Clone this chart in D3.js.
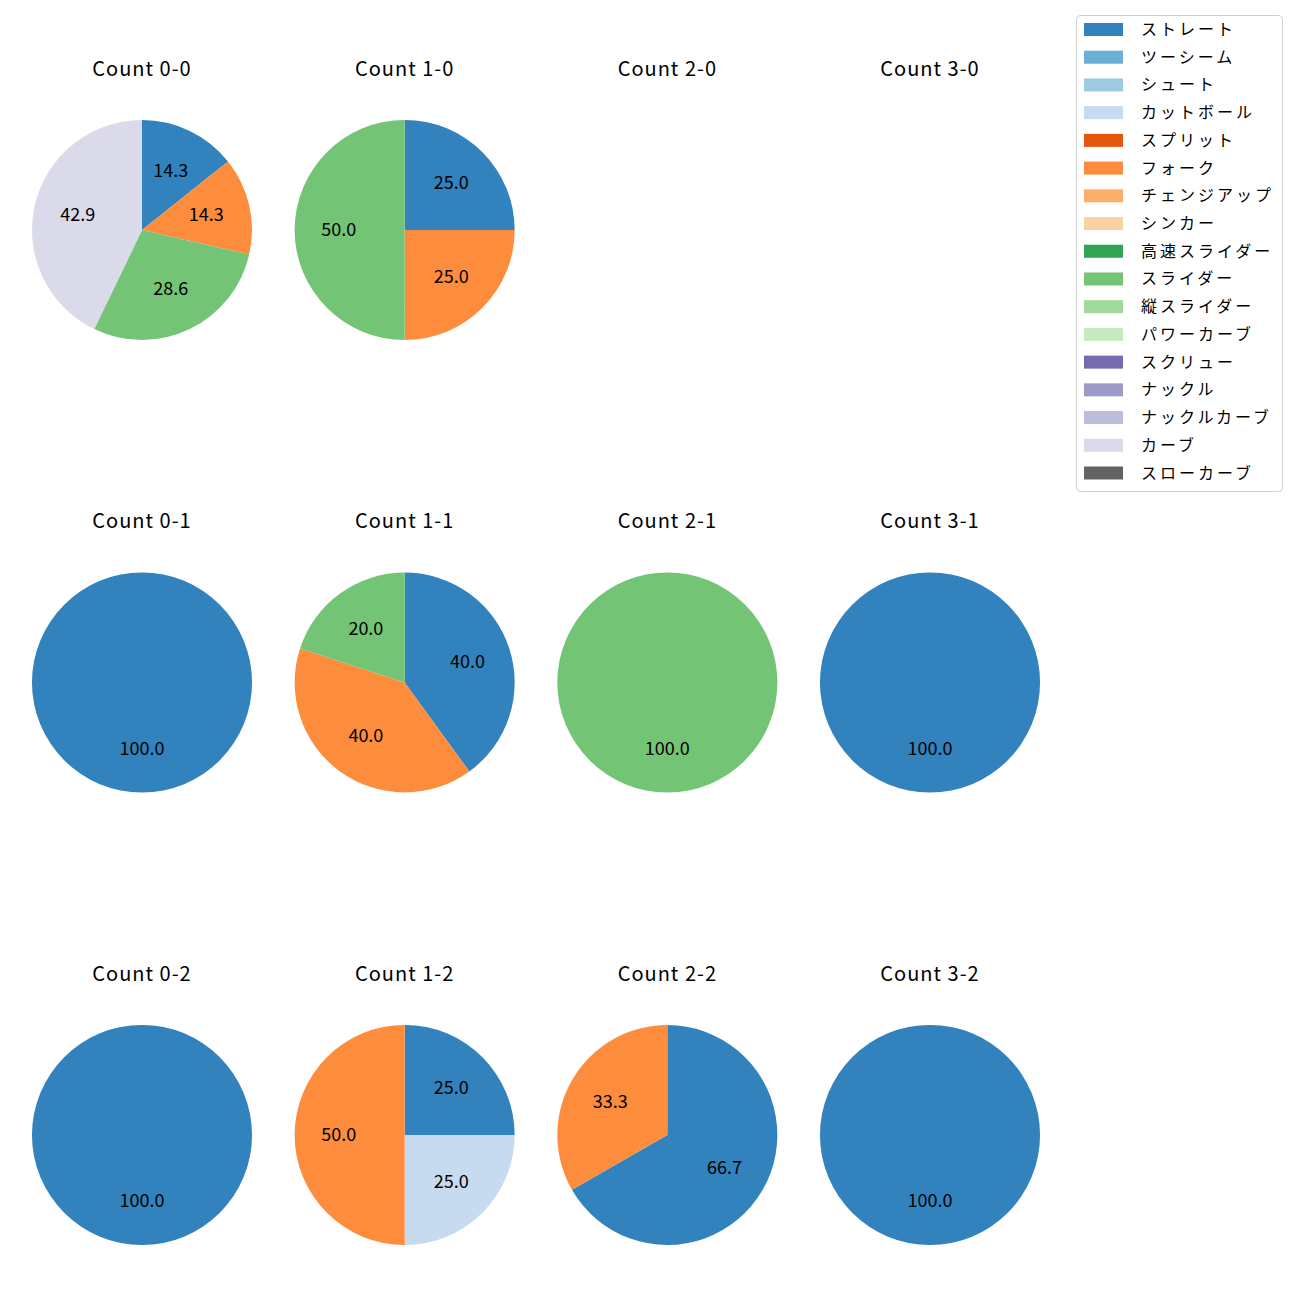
<!DOCTYPE html>
<html><head><meta charset="utf-8">
<script src="https://cdn.jsdelivr.net/npm/d3@7"></script>
<style>body{margin:0;background:#fff;} text{font-family:"Noto Sans CJK JP","Noto Sans",sans-serif;}</style>
</head><body>
<svg id="c" width="1300" height="1300"></svg>
<script>
const pitchTypes = ["ストレート","ツーシーム","シュート","カットボール","スプリット","フォーク","チェンジアップ","シンカー","高速スライダー","スライダー","縦スライダー","パワーカーブ","スクリュー","ナックル","ナックルカーブ","カーブ","スローカーブ"];
const pitchColors = ["#3182bd","#6baed6","#9ecae1","#c6dbef","#e6550d","#fd8d3c","#fdae6b","#fdd0a2","#31a354","#74c476","#a1d99b","#c7e9c0","#756bb1","#9e9ac8","#bcbddc","#dadaeb","#636363"];
const countTitles = ["Count 0-0","Count 1-0","Count 2-0","Count 3-0","Count 0-1","Count 1-1","Count 2-1","Count 3-1","Count 0-2","Count 1-2","Count 2-2","Count 3-2"];
// each panel: [pitch type, share %]
const panel00 = [["ストレート",14.3],["フォーク",14.3],["スライダー",28.6],["カーブ",42.9]];
const panel10 = [["ストレート",25.0],["フォーク",25.0],["スライダー",50.0]];
const panel20 = [];
const panel30 = [];
const panel01 = [["ストレート",100.0]];
const panel11 = [["ストレート",40.0],["フォーク",40.0],["スライダー",20.0]];
const panel21 = [["スライダー",100.0]];
const panel31 = [["ストレート",100.0]];
const panel02 = [["ストレート",100.0]];
const panel12 = [["ストレート",25.0],["カットボール",25.0],["フォーク",50.0]];
const panel22 = [["ストレート",66.7],["フォーク",33.3]];
const panel32 = [["ストレート",100.0]];
const panels = [panel00,panel10,panel20,panel30,panel01,panel11,panel21,panel31,panel02,panel12,panel22,panel32];

const svg = d3.select("#c");
const color = d3.scaleOrdinal().domain(pitchTypes).range(pitchColors);
const colX = d3.scalePoint().domain([0,1,2,3]).range([142,930]);
const rowY = d3.scalePoint().domain([0,1,2]).range([230,1135]);
const R = 110;
const pie = d3.pie().sort(null).value(d=>d[1]);
const arc = d3.arc().innerRadius(0).outerRadius(R);
const labelArc = d3.arc().innerRadius(R*0.6).outerRadius(R*0.6);

panels.forEach((data,i)=>{
  const c = i%4, r = Math.floor(i/4);
  const g = svg.append("g").attr("transform",`translate(${colX(c)},${rowY(r)})`);
  g.append("text").attr("x",0).attr("y",-163).attr("text-anchor","middle")
    .attr("dominant-baseline","central").attr("letter-spacing","1px")
    .attr("font-size","20px").attr("fill","#000").text(countTitles[i]);
  if(!data.length) return;
  const arcs = pie(data);
  g.selectAll("path").data(arcs).join("path").attr("d",arc).attr("fill",d=>color(d.data[0]));
  g.selectAll("text.lbl").data(arcs).join("text").attr("class","lbl")
    .attr("transform",d=>{const p=labelArc.centroid(d);return `translate(${p[0]},${p[1]-2})`;})
    .attr("text-anchor","middle").attr("dominant-baseline","central")
    .attr("font-size","18px").attr("fill","#000").text(d=>d.data[1].toFixed(1));
});

// legend
const lg = svg.append("g");
lg.append("rect").attr("x",1076.5).attr("y",15.5).attr("width",206).attr("height",476).attr("rx",4)
  .attr("fill","#fff").attr("stroke","#d0d0d0").attr("stroke-width",1);
const ly = d3.scaleLinear().domain([0,pitchTypes.length-1]).range([29.5,473]);
pitchTypes.forEach((p,i)=>{
  lg.append("rect").attr("x",1084).attr("y",ly(i)-6.5).attr("width",39).attr("height",13).attr("fill",color(p));
  lg.append("text").attr("x",1141).attr("y",ly(i)-1.5).attr("dominant-baseline","central")
    .attr("letter-spacing","3px")
    .attr("font-size","16px").attr("fill","#000").text(p);
});
</script>
</body></html>
